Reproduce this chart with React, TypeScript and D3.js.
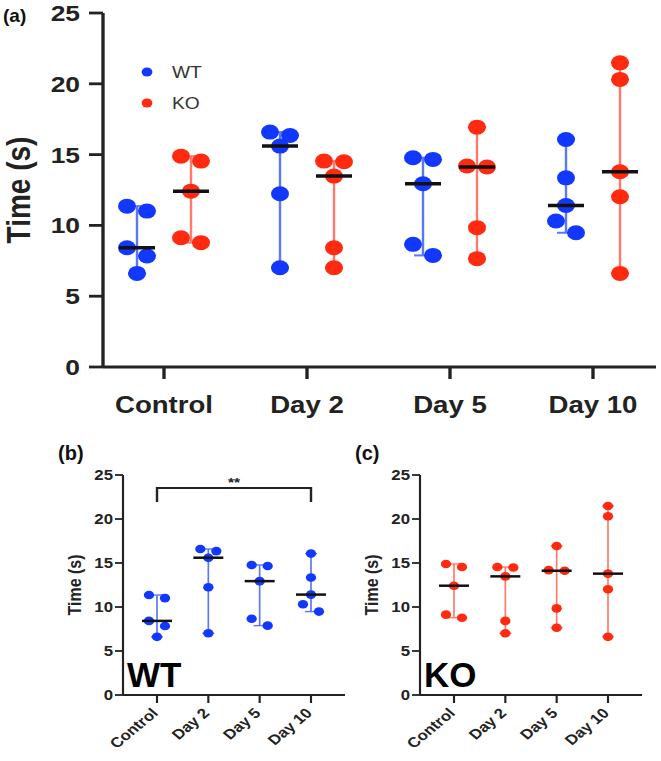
import React from 'react';
import * as d3 from 'd3';

// ---------- data ----------
const categories = ['Control', 'Day 2', 'Day 5', 'Day 10'];
const seriesNames = ['WT', 'KO'];
const wtValues = [
  [11.36, 11.01, 8.42, 7.84, 6.61],
  [16.59, 16.35, 15.6, 12.24, 7.01],
  [14.78, 14.66, 12.94, 8.66, 7.88],
  [16.07, 13.36, 11.41, 10.31, 9.48],
];
const koValues = [
  [14.89, 14.54, 12.42, 9.13, 8.78],
  [14.54, 14.49, 13.48, 8.42, 7.01],
  [16.94, 14.19, 14.12, 9.84, 7.65],
  [21.48, 20.31, 13.79, 12.02, 6.61],
];
const yTicks = [0, 5, 10, 15, 20, 25];
const sigPair = ['Control', 'Day 10'];
const sigLabel = '**';

// ---------- style ----------
const SX = 1.2; // horizontal stretch of the original figure
const FONT = '"Liberation Sans", Arial, Helvetica, sans-serif';
const WT_DOT = '#1238ff';
const WT_LINE = '#5a78f5';
const KO_DOT = '#ff2a10';
const KO_LINE = '#ff7a6a';
const AXIS = '#222';

function swarm(values: number[], y: (v: number) => number, minGap: number, spacing: number) {
  const sorted = [...values].sort((a, b) => b - a);
  const rows: number[][] = [];
  let cur: number[] = [];
  for (const v of sorted) {
    if (cur.length && y(v) - y(cur[0]) < minGap) cur.push(v);
    else {
      if (cur.length) rows.push(cur);
      cur = [v];
    }
  }
  if (cur.length) rows.push(cur);
  const out: { v: number; dx: number }[] = [];
  rows.forEach((row) => row.forEach((v, k) => out.push({ v, dx: (k - (row.length - 1) / 2) * spacing })));
  return out;
}

type StripProps = {
  cx: number;
  values: number[];
  y: d3.ScaleLinear<number, number>;
  r: number;
  spacing: number;
  medianW: number;
  medianT: number;
  capW: number;
  lineW: number;
  dot: string;
  line: string;
};

function Strip({ cx, values, y, r, spacing, medianW, medianT, capW, lineW, dot, line }: StripProps) {
  const ext = d3.extent(values) as [number, number];
  const med = d3.median(values) as number;
  const pts = swarm(values, (v) => y(v), r * 1.8, spacing);
  const c = cx / SX;
  return (
    <g>
      <line x1={c} x2={c} y1={y(ext[0])} y2={y(ext[1])} stroke={line} strokeWidth={lineW} />
      <line x1={c - capW / 2 / SX} x2={c + capW / 2 / SX} y1={y(ext[0])} y2={y(ext[0])} stroke={line} strokeWidth={lineW} />
      <line x1={c - capW / 2 / SX} x2={c + capW / 2 / SX} y1={y(ext[1])} y2={y(ext[1])} stroke={line} strokeWidth={lineW} />
      {pts.map((p, i) => (
        <circle key={i} cx={c + p.dx / SX} cy={y(p.v)} r={r} fill={dot} />
      ))}
      <line x1={c - medianW / 2 / SX} x2={c + medianW / 2 / SX} y1={y(med)} y2={y(med)} stroke="#111" strokeWidth={medianT} />
    </g>
  );
}

function PanelA() {
  const axisX = 103;
  const xEnd = 656;
  const x = d3.scalePoint<string>().domain(categories).range([164, 593]);
  const y = d3.scaleLinear().domain([0, 25]).range([367, 13]);
  const offsets = [-27, 27];
  const data = [wtValues, koValues];
  const dots = [WT_DOT, KO_DOT];
  const lines = [WT_LINE, KO_LINE];
  return (
    <g>
      <text x={3} y={22} fontSize={19} fontWeight="bold" fill="#111">(a)</text>
      <g transform={`scale(${SX},1)`}>
        <line x1={axisX / SX} x2={axisX / SX} y1={y(25)} y2={y(0)} stroke={AXIS} strokeWidth={2.8} />
        <line x1={axisX / SX} x2={xEnd / SX} y1={y(0)} y2={y(0)} stroke={AXIS} strokeWidth={2.8} />
        {yTicks.map((t) => (
          <g key={t}>
            <line x1={(axisX - 14) / SX} x2={axisX / SX} y1={y(t)} y2={y(t)} stroke={AXIS} strokeWidth={2.8} />
            <text x={80 / SX} y={y(t)} dy="0.36em" textAnchor="end" fontSize={22} fontWeight="bold" fill="#222">{t}</text>
          </g>
        ))}
        {categories.map((c) => (
          <g key={c}>
            <line x1={x(c)! / SX} x2={x(c)! / SX} y1={y(0)} y2={y(0) + 12} stroke={AXIS} strokeWidth={2.8} />
            <text x={x(c)! / SX} y={413} textAnchor="middle" fontSize={23} fontWeight="bold" fill="#222">{c}</text>
          </g>
        ))}
        <text transform={`translate(${18 / SX},${190}) rotate(-90)`} textAnchor="middle" dy="0.35em" fontSize={28} fontWeight="bold" fill="#222">Time (s)</text>
        {seriesNames.map((s, si) => (
          <g key={s}>
            <circle cx={147 / SX} cy={72 + si * 31} r={4.5} fill={dots[si]} />
            <text x={172 / SX} y={72 + si * 31} dy="0.36em" fontSize={16} fill="#333">{s}</text>
          </g>
        ))}
        {seriesNames.map((s, si) =>
          categories.map((c, ci) => (
            <Strip key={s + c} cx={x(c)! + offsets[si]} values={data[si][ci]} y={y} r={7.5} spacing={20}
              medianW={36} medianT={3.5} capW={18} lineW={2} dot={dots[si]} line={lines[si]} />
          ))
        )}
      </g>
    </g>
  );
}

type SmallProps = {
  letter: string;
  label: string;
  axisX: number;
  xEnd: number;
  tickRange: [number, number];
  values: number[][];
  dot: string;
  line: string;
  showSig: boolean;
};

function SmallPanel({ letter, label, axisX, xEnd, tickRange, values, dot, line, showSig }: SmallProps) {
  const x = d3.scalePoint<string>().domain(categories).range(tickRange);
  const y = d3.scaleLinear().domain([0, 25]).range([695, 475]);
  const x1 = x(sigPair[0])!;
  const x2 = x(sigPair[1])!;
  return (
    <g>
      <text x={axisX - 65} y={460} fontSize={20} fontWeight="bold" fill="#111">{letter}</text>
      <g transform={`scale(${SX},1)`}>
        <line x1={axisX / SX} x2={axisX / SX} y1={y(25)} y2={y(0)} stroke={AXIS} strokeWidth={1.8} />
        <line x1={axisX / SX} x2={xEnd / SX} y1={y(0)} y2={y(0)} stroke={AXIS} strokeWidth={1.8} />
        {yTicks.map((t) => (
          <g key={t}>
            <line x1={(axisX - 8) / SX} x2={axisX / SX} y1={y(t)} y2={y(t)} stroke={AXIS} strokeWidth={1.8} />
            <text x={(axisX - 10) / SX} y={y(t)} dy="0.36em" textAnchor="end" fontSize={14} fontWeight="bold" fill="#222">{t}</text>
          </g>
        ))}
        {categories.map((c) => (
          <g key={c}>
            <line x1={x(c)! / SX} x2={x(c)! / SX} y1={y(0)} y2={y(0) + 8} stroke={AXIS} strokeWidth={1.8} />
            <text transform={`translate(${(x(c)! + 2) / SX},${y(0) + 19}) rotate(-45)`} textAnchor="end" fontSize={14} fontWeight="bold" fill="#222">{c}</text>
          </g>
        ))}
        <text transform={`translate(${(axisX - 49) / SX},${585}) rotate(-90)`} textAnchor="middle" dy="0.35em" fontSize={16} fontWeight="bold" fill="#222">Time (s)</text>
        {showSig && (
          <g>
            <path d={`M${x1 / SX},502V488H${x2 / SX}V502`} fill="none" stroke={AXIS} strokeWidth={2} />
            <text x={(x1 + x2) / 2 / SX} y={487} textAnchor="middle" fontSize={13} fontWeight="bold" fill="#222">{sigLabel}</text>
          </g>
        )}
        {categories.map((c, ci) => (
          <Strip key={c} cx={x(c)!} values={values[ci]} y={y} r={4.3} spacing={16}
            medianW={30} medianT={2.5} capW={12} lineW={1.4} dot={dot} line={line} />
        ))}
      </g>
      <text x={axisX + 4} y={687} fontSize={35} fontWeight="bold" fill="#000">{label}</text>
    </g>
  );
}

export default function App() {
  return (
    <svg width={661} height={761} style={{ position: 'absolute', left: 0, top: 0, background: '#fff' }} fontFamily={FONT}>
      <rect width={661} height={761} fill="#fff" />
      <PanelA />
      <SmallPanel letter="(b)" label="WT" axisX={123} xEnd={345} tickRange={[157, 311]} values={wtValues} dot={WT_DOT} line={WT_LINE} showSig={true} />
      <SmallPanel letter="(c)" label="KO" axisX={420} xEnd={642} tickRange={[454, 608]} values={koValues} dot={KO_DOT} line={KO_LINE} showSig={false} />
    </svg>
  );
}
